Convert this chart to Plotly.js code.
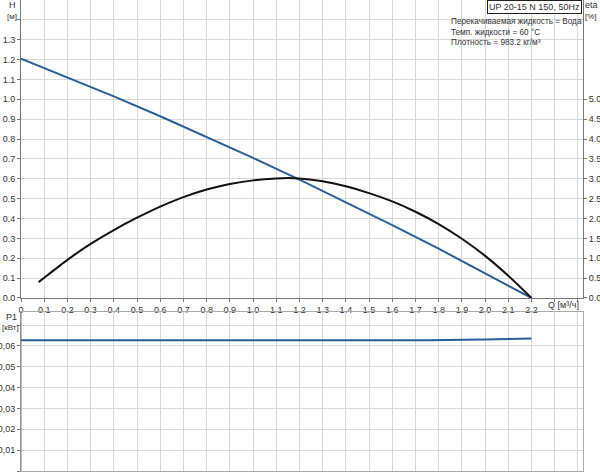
<!DOCTYPE html>
<html>
<head>
<meta charset="utf-8">
<script src="https://cdn.plot.ly/plotly-3.0.1.min.js"></script>
<style>
  html, body { margin: 0; padding: 0; background: #fff; }
  #plot { width: 600px; height: 473px; }
</style>
</head>
<body>
<div id="plot"></div>
<script>
// Q [m3/h] for head curve
var qHead = [0, 0.2, 0.4, 0.6, 0.8, 1.0, 1.2, 1.4, 1.6, 1.8, 2.0, 2.2];
var head = [1.205, 1.111, 1.015, 0.915, 0.812, 0.705, 0.596, 0.483, 0.367, 0.248, 0.126, 0];

// efficiency curve (eta, right axis)
var qEta = [0.076, 0.1, 0.2, 0.3, 0.4, 0.5, 0.6, 0.7, 0.8, 0.9, 1.0, 1.1, 1.15, 1.2, 1.3, 1.4, 1.5, 1.6, 1.7, 1.8, 1.9, 2.0, 2.1, 2.2];
var eta = [0.40, 0.51, 0.96, 1.36, 1.71, 2.02, 2.30, 2.54, 2.73, 2.87, 2.96, 3.01, 3.02, 3.01, 2.94, 2.81, 2.64, 2.43, 2.17, 1.86, 1.49, 1.06, 0.56, 0];

// power input P1 [kW]
var qP1 = [0, 0.25, 0.5, 0.75, 1.0, 1.25, 1.5, 1.75, 2.0, 2.2];
var p1 = [0.0628, 0.0628, 0.0629, 0.0628, 0.0628, 0.0627, 0.0627, 0.0628, 0.0631, 0.0636];

// tick labels
var qTicks = [0, 0.1, 0.2, 0.3, 0.4, 0.5, 0.6, 0.7, 0.8, 0.9, 1.0, 1.1, 1.2, 1.3, 1.4, 1.5, 1.6, 1.7, 1.8, 1.9, 2.0, 2.1, 2.2, 2.3, 2.4];
var qLabels = ["0", "0.1", "0.2", "0.3", "0.4", "0.5", "0.6", "0.7", "0.8", "0.9", "1.0", "1.1", "1.2", "1.3", "1.4", "1.5", "1.6", "1.7", "1.8", "1.9", "2.0", "2.1", "2.2", "", ""];
var hTicks = [0, 0.1, 0.2, 0.3, 0.4, 0.5, 0.6, 0.7, 0.8, 0.9, 1.0, 1.1, 1.2, 1.3, 1.4];
var hLabels = ["0.0", "0.1", "0.2", "0.3", "0.4", "0.5", "0.6", "0.7", "0.8", "0.9", "1.0", "1.1", "1.2", "1.3", ""];
var etaTicks = [0, 0.5, 1.0, 1.5, 2.0, 2.5, 3.0, 3.5, 4.0, 4.5, 5.0];
var etaLabels = ["0.0", "0.5", "1.0", "1.5", "2.0", "2.5", "3.0", "3.5", "4.0", "4.5", "5.0"];
var pTicks = [0, 0.01, 0.02, 0.03, 0.04, 0.05, 0.06, 0.07];
var pLabels = ["0", "0,01", "0,02", "0,03", "0,04", "0,05", "0,06", ""];

var blue = "#2b5f9a";
var grid = "#d8d8d8";
var axisCol = "#777";
var font = { family: "Liberation Sans, Arial, sans-serif", size: 9, color: "#333" };
var small = { family: font.family, size: 8, color: "#333" };

var data = [
  { x: qHead, y: head, type: "scatter", mode: "lines", xaxis: "x", yaxis: "y",
    line: { color: blue, width: 2 }, hoverinfo: "skip" },
  { x: qEta, y: eta, type: "scatter", mode: "lines", xaxis: "x", yaxis: "y3",
    line: { color: "#111", width: 2, shape: "spline", smoothing: 0.5 }, hoverinfo: "skip" },
  { x: qP1, y: p1, type: "scatter", mode: "lines", xaxis: "x2", yaxis: "y2",
    line: { color: blue, width: 2 }, hoverinfo: "skip" }
];

var xRange = [0, 2.422];

var layout = {
  width: 600, height: 473,
  margin: { l: 0, r: 0, t: 0, b: 0 },
  paper_bgcolor: "#fff", plot_bgcolor: "#fff",
  showlegend: false,
  font: font,
  xaxis: {
    domain: [0.035, 0.9717], range: xRange, anchor: "y",
    tickvals: qTicks, ticktext: qLabels, ticks: "outside", ticklen: 3, tickcolor: axisCol,
    showgrid: true, gridcolor: grid, gridwidth: 1, zeroline: false,
    showline: true, linecolor: axisCol, linewidth: 1, tickfont: font
  },
  yaxis: {
    domain: [0.37, 1.0], range: [0, 1.5], anchor: "x",
    tickvals: hTicks, ticktext: hLabels, ticks: "outside", ticklen: 3, tickcolor: axisCol,
    showgrid: true, gridcolor: grid, zeroline: false,
    showline: true, linecolor: axisCol, linewidth: 1, tickfont: font
  },
  yaxis3: {
    overlaying: "y", side: "right", anchor: "x", range: [0, 7.5],
    tickvals: etaTicks, ticktext: etaLabels, ticks: "outside", ticklen: 3, tickcolor: axisCol,
    showgrid: false, zeroline: false,
    showline: true, linecolor: axisCol, linewidth: 1, tickfont: font
  },
  xaxis2: {
    domain: [0.035, 0.9717], range: xRange, anchor: "y2",
    tickvals: qTicks, showticklabels: false,
    showgrid: true, gridcolor: grid, zeroline: false,
    showline: true, mirror: true, linecolor: "#aaa", linewidth: 1
  },
  yaxis2: {
    domain: [0.0042, 0.3404], range: [0, 0.0763], anchor: "x2",
    tickvals: pTicks, ticktext: pLabels, ticks: "outside", ticklen: 3, tickcolor: axisCol,
    showgrid: true, gridcolor: grid, zeroline: false,
    showline: true, mirror: true, linecolor: "#aaa", linewidth: 1, tickfont: font
  },
  shapes: [
    { type: "line", xref: "paper", yref: "paper", x0: 0.035, x1: 0.035, y0: 0.0042, y1: 0.3404,
      line: { color: axisCol, width: 1 } }
  ],
  annotations: [
    { text: "H", xref: "paper", yref: "paper", x: 12 / 600, y: 1 - 5 / 473, showarrow: false,
      xanchor: "center", yanchor: "middle", font: font },
    { text: "[м]", xref: "paper", yref: "paper", x: 12 / 600, y: 1 - 16 / 473, showarrow: false,
      xanchor: "center", yanchor: "middle", font: small },
    { text: "eta", xref: "paper", yref: "paper", x: 591 / 600, y: 1 - 5 / 473, showarrow: false,
      xanchor: "center", yanchor: "middle", font: font },
    { text: "[%]", xref: "paper", yref: "paper", x: 591 / 600, y: 1 - 17 / 473, showarrow: false,
      xanchor: "center", yanchor: "middle", font: small },
    { text: "Q [м³/ч]", xref: "paper", yref: "paper", x: 563 / 600, y: 1 - 305 / 473, showarrow: false,
      xanchor: "center", yanchor: "middle", font: font },
    { text: "P1", xref: "paper", yref: "paper", x: 11 / 600, y: 1 - 317 / 473, showarrow: false,
      xanchor: "center", yanchor: "middle", font: font },
    { text: "[кВт]", xref: "paper", yref: "paper", x: 10 / 600, y: 1 - 327 / 473, showarrow: false,
      xanchor: "center", yanchor: "middle", font: small },
    { text: "UP 20-15 N 150, 50Hz", xref: "paper", yref: "paper", x: 582 / 600, y: 1, showarrow: false,
      xanchor: "right", yanchor: "top", bgcolor: "#fff", bordercolor: "#222", borderwidth: 1, borderpad: 1,
      font: font },
    { text: "Перекачиваемая жидкость = Вода<br>Темп. жидкости = 60 °C<br>Плотность = 983.2 кг/м³",
      xref: "paper", yref: "paper", x: 449 / 600, y: 1 - 15 / 473, showarrow: false,
      xanchor: "left", yanchor: "top", align: "left",
      font: { family: font.family, size: 8.2, color: "#333" } }
  ]
};

Plotly.newPlot("plot", data, layout, { staticPlot: true, displayModeBar: false });
</script>
</body>
</html>
